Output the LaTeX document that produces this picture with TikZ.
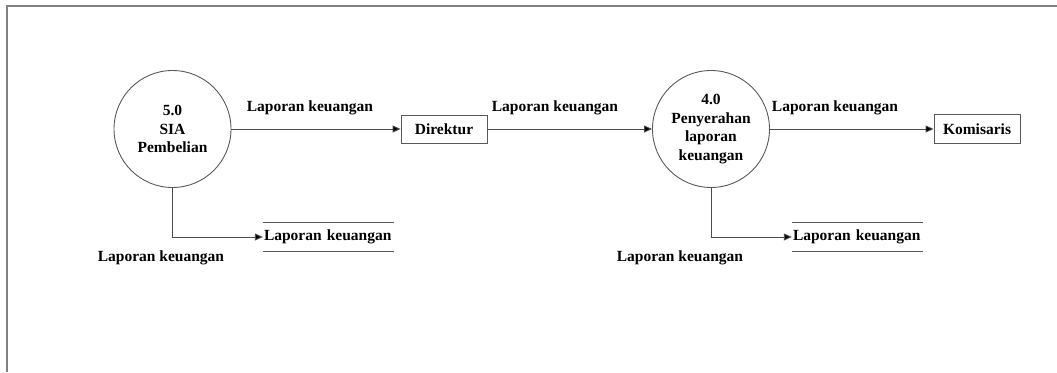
\documentclass[tikz,border=0pt]{standalone}
\usepackage{fontspec}
\setmainfont{Liberation Serif}
\usetikzlibrary{arrows.meta}
\begin{document}
\begin{tikzpicture}[x=1pt,y=-1pt,
  every node/.style={font=\fontsize{15.5}{18.7}\selectfont\bfseries, text=black},
  proc/.style={circle, draw=black!65, line width=0.9pt, minimum size=117pt, inner sep=0pt, align=center},
  ent/.style={rectangle, draw=black!65, line width=0.9pt, minimum width=86pt, minimum height=28pt, inner sep=0pt},
  store/.style={minimum width=131pt, minimum height=28pt, inner sep=1pt, align=left, text width=129pt},
  flow/.style={draw=black!70, line width=0.9pt, -{Triangle[length=8pt,width=7pt,fill=black]}},
  lbl/.style={inner sep=0pt}]
\useasboundingbox (0,0) rectangle (1057,372);
\draw[black!50, line width=1.2pt] (7,372) -- (7,6) -- (1057,6);

\node[proc] (c5) at (172.5,129) {5.0\\SIA\\Pembelian};
\node[ent] (dir) at (444,129) {Direktur};
\node[proc] (c4) at (711,129) {4.0\\Penyerahan\\laporan\\keuangan};
\node[ent, minimum height=29pt] (kom) at (977,129) {Komisaris};

\node[store] (s1) at (328.5,237) {Laporan keuangan};
\draw[black!65, line width=0.9pt] (s1.north west) -- (s1.north east) (s1.south west) -- (s1.south east);
\node[store] (s2) at (857.5,237) {Laporan keuangan};
\draw[black!65, line width=0.9pt] (s2.north west) -- (s2.north east) (s2.south west) -- (s2.south east);

\draw[flow] (c5) -- (dir);
\draw[flow] (dir) -- (c4);
\draw[flow] (c4) -- (kom);
\draw[flow] (c5.south) |- (s1.west);
\draw[flow] (c4.south) |- (s2.west);

\node[lbl] (l1) at (310,108) {Laporan keuangan};
\node[lbl] (l2) at (555,108) {Laporan keuangan};
\node[lbl] (l3) at (835,108) {Laporan keuangan};
\node[lbl] (l4) at (161,258) {Laporan keuangan};
\node[lbl] (l5) at (680,258) {Laporan keuangan};
\end{tikzpicture}
\end{document}
